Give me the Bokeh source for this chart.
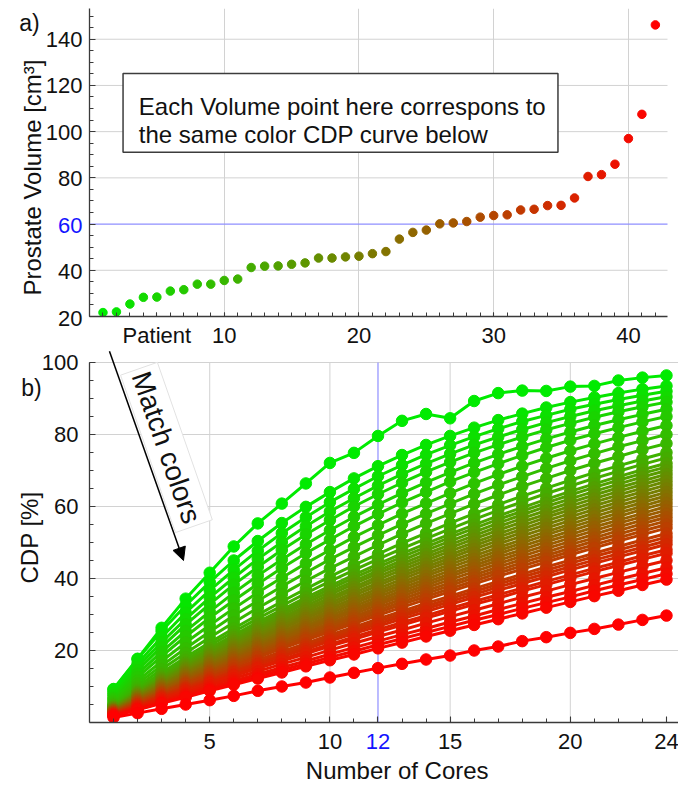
from bokeh.plotting import figure
from bokeh.models import (FixedTicker, Label, BoxAnnotation, Arrow, NormalHead,
                          ColumnDataSource, Range1d)
from bokeh.layouts import column, row
from bokeh.embed import file_html
from bokeh.resources import INLINE

# ---------------- data ----------------
patients = [1, 2, 3, 4, 5, 6, 7, 8, 9, 10, 11, 12, 13, 14, 15, 16, 17, 18, 19, 20, 21,
            22, 23, 24, 25, 26, 27, 28, 29, 30, 31, 32, 33, 34, 35, 36, 37, 38, 39, 40, 41, 42]
volume = [21.7, 22.0, 25.4, 28.3, 28.4, 31.0, 31.6, 34.0, 34.0, 35.6, 36.2, 41.2, 41.8, 41.9,
          42.6, 43.2, 45.3, 45.3, 45.8, 46.1, 47.2, 48.1, 53.5, 56.4, 57.4, 60.1, 60.5, 61.1,
          63.0, 63.7, 64.0, 66.1, 66.4, 68.0, 68.1, 71.3, 80.6, 81.4, 85.9, 97.0, 107.5, 146.2]

cores = [1, 2, 3, 4, 5, 6, 7, 8, 9, 10, 11, 12, 13, 14, 15, 16, 17, 18, 19, 20, 21, 22, 23, 24]

cdp_01 = [9.3, 17.7, 26.3, 34.4, 41.6, 48.9, 55.3, 60.8, 66.4, 72.1, 74.9, 79.6, 83.8, 85.7, 84.5, 89.3, 91.5, 92.2, 92.1, 93.3, 93.5, 95.0, 95.8, 96.4]
cdp_02 = [9.2, 17.6, 25.4, 32.5, 39.0, 45.0, 50.4, 55.4, 59.9, 64.0, 67.8, 71.2, 74.3, 77.1, 79.6, 81.9, 84.0, 85.8, 87.5, 89.0, 90.3, 91.5, 92.6, 93.5]
cdp_03 = [8.5, 16.4, 23.7, 30.5, 36.7, 42.4, 47.7, 52.6, 57.0, 61.2, 64.9, 68.4, 71.5, 74.4, 77.0, 79.4, 81.6, 83.6, 85.3, 87.0, 88.4, 89.7, 90.9, 92.0]
cdp_04 = [8.0, 15.4, 22.3, 28.7, 34.7, 40.2, 45.4, 50.1, 54.5, 58.6, 62.3, 65.8, 69.0, 71.9, 74.6, 77.1, 79.3, 81.4, 83.3, 85.0, 86.6, 88.0, 89.3, 90.5]
cdp_05 = [7.5, 14.5, 21.0, 27.2, 32.9, 38.3, 43.2, 47.9, 52.2, 56.2, 60.0, 63.4, 66.6, 69.6, 72.3, 74.9, 77.2, 79.3, 81.3, 83.1, 84.8, 86.3, 87.7, 89.0]
cdp_06 = [6.9, 13.5, 19.6, 25.4, 30.8, 36.0, 40.8, 45.3, 49.5, 53.4, 57.1, 60.5, 63.7, 66.7, 69.5, 72.1, 74.5, 76.7, 78.8, 80.7, 82.5, 84.1, 85.6, 87.0]
cdp_07 = [6.5, 12.6, 18.4, 23.9, 29.1, 33.9, 38.5, 42.9, 47.0, 50.8, 54.5, 57.9, 61.1, 64.0, 66.9, 69.5, 71.9, 74.2, 76.4, 78.4, 80.2, 81.9, 83.5, 85.0]
cdp_08 = [6.0, 11.6, 17.0, 22.2, 27.0, 31.7, 36.1, 40.2, 44.2, 47.9, 51.5, 54.8, 58.0, 60.9, 63.7, 66.4, 68.9, 71.2, 73.4, 75.5, 77.4, 79.2, 80.9, 82.5]
cdp_09 = [5.5, 10.8, 15.8, 20.6, 25.2, 29.7, 33.8, 37.8, 41.6, 45.3, 48.7, 52.0, 55.1, 58.0, 60.8, 63.5, 66.0, 68.3, 70.6, 72.7, 74.7, 76.6, 78.3, 80.0]
cdp_10 = [5.1, 10.0, 14.8, 19.3, 23.6, 27.8, 31.8, 35.6, 39.3, 42.8, 46.1, 49.3, 52.4, 55.3, 58.0, 60.7, 63.2, 65.6, 67.8, 70.0, 72.0, 73.9, 75.8, 77.5]
cdp_11 = [4.8, 9.4, 13.8, 18.1, 22.2, 26.1, 29.9, 33.6, 37.1, 40.5, 43.7, 46.8, 49.8, 52.6, 55.4, 58.0, 60.5, 62.9, 65.1, 67.3, 69.4, 71.3, 73.2, 75.0]
cdp_12 = [4.6, 9.0, 13.3, 17.4, 21.4, 25.2, 28.9, 32.4, 35.9, 39.2, 42.3, 45.4, 48.3, 51.1, 53.8, 56.4, 58.9, 61.3, 63.6, 65.7, 67.8, 69.8, 71.7, 73.5]
cdp_13 = [4.4, 8.6, 12.8, 16.7, 20.6, 24.3, 27.9, 31.3, 34.7, 37.9, 41.0, 44.0, 46.9, 49.7, 52.3, 54.9, 57.4, 59.7, 62.0, 64.2, 66.3, 68.3, 70.2, 72.0]
cdp_14 = [4.3, 8.4, 12.4, 16.3, 20.1, 23.7, 27.2, 30.6, 33.9, 37.1, 40.2, 43.1, 46.0, 48.7, 51.4, 53.9, 56.4, 58.7, 61.0, 63.2, 65.3, 67.3, 69.2, 71.0]
cdp_15 = [4.2, 8.2, 12.1, 15.9, 19.6, 23.1, 26.6, 29.9, 33.2, 36.3, 39.3, 42.2, 45.0, 47.8, 50.4, 52.9, 55.4, 57.7, 60.0, 62.1, 64.2, 66.2, 68.2, 70.0]
cdp_16 = [4.0, 8.0, 11.8, 15.5, 19.1, 22.6, 26.0, 29.2, 32.4, 35.5, 38.5, 41.4, 44.1, 46.8, 49.4, 51.9, 54.4, 56.7, 58.9, 61.1, 63.2, 65.2, 67.1, 69.0]
cdp_17 = [3.9, 7.8, 11.5, 15.1, 18.6, 22.0, 25.4, 28.6, 31.7, 34.7, 37.6, 40.5, 43.2, 45.9, 48.5, 51.0, 53.4, 55.7, 57.9, 60.1, 62.2, 64.2, 66.1, 68.0]
cdp_18 = [3.8, 7.6, 11.2, 14.7, 18.2, 21.5, 24.8, 27.9, 31.0, 34.0, 36.9, 39.7, 42.4, 45.0, 47.6, 50.0, 52.4, 54.7, 57.0, 59.1, 61.2, 63.2, 65.1, 67.0]
cdp_19 = [3.7, 7.4, 10.9, 14.4, 17.7, 21.0, 24.2, 27.3, 30.3, 33.2, 36.1, 38.8, 41.5, 44.1, 46.6, 49.1, 51.5, 53.7, 56.0, 58.1, 60.2, 62.2, 64.1, 66.0]
cdp_20 = [3.6, 7.2, 10.6, 14.0, 17.3, 20.5, 23.6, 26.7, 29.6, 32.5, 35.3, 38.0, 40.7, 43.2, 45.7, 48.2, 50.5, 52.8, 55.0, 57.1, 59.2, 61.2, 63.1, 65.0]
cdp_21 = [3.5, 7.0, 10.4, 13.7, 16.9, 20.0, 23.1, 26.1, 29.0, 31.8, 34.5, 37.2, 39.8, 42.4, 44.8, 47.2, 49.6, 51.8, 54.0, 56.1, 58.2, 60.2, 62.1, 64.0]
cdp_22 = [3.4, 6.8, 10.1, 13.3, 16.5, 19.5, 22.5, 25.4, 28.3, 31.1, 33.8, 36.4, 39.0, 41.5, 43.9, 46.3, 48.6, 50.8, 53.0, 55.1, 57.2, 59.2, 61.1, 63.0]
cdp_23 = [3.4, 6.6, 9.9, 13.0, 16.1, 19.1, 22.0, 24.9, 27.7, 30.4, 33.1, 35.7, 38.2, 40.7, 43.1, 45.4, 47.7, 49.9, 52.1, 54.2, 56.2, 58.2, 60.1, 62.0]
cdp_24 = [3.3, 6.5, 9.6, 12.7, 15.7, 18.6, 21.5, 24.3, 27.0, 29.7, 32.3, 34.9, 37.4, 39.8, 42.2, 44.5, 46.8, 49.0, 51.1, 53.2, 55.3, 57.2, 59.2, 61.0]
cdp_25 = [3.2, 6.3, 9.4, 12.3, 15.3, 18.1, 21.0, 23.7, 26.4, 29.0, 31.6, 34.1, 36.6, 39.0, 41.3, 43.6, 45.9, 48.0, 50.2, 52.2, 54.3, 56.2, 58.1, 60.0]
cdp_26 = [3.1, 6.1, 9.1, 12.0, 14.9, 17.7, 20.5, 23.2, 25.8, 28.4, 30.9, 33.4, 35.8, 38.2, 40.5, 42.8, 45.0, 47.1, 49.2, 51.3, 53.3, 55.3, 57.2, 59.0]
cdp_27 = [3.0, 6.0, 8.9, 11.7, 14.5, 17.3, 20.0, 22.6, 25.2, 27.7, 30.2, 32.7, 35.1, 37.4, 39.7, 41.9, 44.1, 46.2, 48.3, 50.3, 52.3, 54.3, 56.2, 58.0]
cdp_28 = [2.9, 5.8, 8.6, 11.4, 14.2, 16.8, 19.5, 22.1, 24.6, 27.1, 29.5, 31.9, 34.3, 36.6, 38.8, 41.0, 43.2, 45.3, 47.3, 49.4, 51.3, 53.3, 55.2, 57.0]
cdp_29 = [2.9, 5.7, 8.4, 11.1, 13.8, 16.4, 19.0, 21.5, 24.0, 26.5, 28.9, 31.2, 33.5, 35.8, 38.0, 40.2, 42.3, 44.4, 46.4, 48.4, 50.4, 52.3, 54.2, 56.0]
cdp_30 = [2.8, 5.5, 8.2, 10.9, 13.5, 16.0, 18.5, 21.0, 23.5, 25.9, 28.2, 30.5, 32.8, 35.0, 37.2, 39.3, 41.5, 43.5, 45.5, 47.5, 49.4, 51.3, 53.2, 55.0]
cdp_31 = [2.7, 5.4, 8.0, 10.6, 13.1, 15.6, 18.1, 20.5, 22.9, 25.2, 27.5, 29.8, 32.0, 34.2, 36.4, 38.5, 40.6, 42.6, 44.6, 46.6, 48.5, 50.4, 52.2, 54.0]
cdp_32 = [2.6, 5.1, 7.7, 10.1, 12.6, 15.0, 17.4, 19.7, 22.0, 24.3, 26.5, 28.8, 30.9, 33.1, 35.1, 37.2, 39.2, 41.2, 43.2, 45.1, 47.0, 48.9, 50.7, 52.5]
cdp_33 = [2.5, 5.0, 7.5, 9.9, 12.3, 14.6, 17.0, 19.3, 21.5, 23.7, 25.9, 28.1, 30.2, 32.3, 34.4, 36.4, 38.4, 40.4, 42.3, 44.2, 46.1, 47.9, 49.7, 51.5]
cdp_34 = [2.4, 4.9, 7.3, 9.6, 11.9, 14.2, 16.5, 18.8, 21.0, 23.1, 25.3, 27.4, 29.5, 31.6, 33.6, 35.6, 37.6, 39.5, 41.4, 43.3, 45.1, 46.9, 48.7, 50.5]
cdp_35 = [2.4, 4.7, 7.1, 9.4, 11.6, 13.9, 16.1, 18.3, 20.4, 22.6, 24.7, 26.7, 28.8, 30.8, 32.8, 34.8, 36.7, 38.6, 40.5, 42.4, 44.2, 46.0, 47.7, 49.5]
cdp_36 = [2.3, 4.5, 6.8, 9.0, 11.2, 13.3, 15.5, 17.6, 19.7, 21.7, 23.8, 25.8, 27.8, 29.7, 31.7, 33.6, 35.5, 37.3, 39.2, 41.0, 42.8, 44.5, 46.3, 48.0]
cdp_37 = [2.2, 4.4, 6.6, 8.7, 10.9, 13.0, 15.0, 17.1, 19.1, 21.2, 23.1, 25.1, 27.1, 29.0, 30.9, 32.8, 34.6, 36.5, 38.3, 40.1, 41.9, 43.6, 45.3, 47.0]
cdp_38 = [2.1, 4.2, 6.2, 8.2, 10.3, 12.3, 14.2, 16.2, 18.1, 20.1, 22.0, 23.9, 25.7, 27.6, 29.4, 31.2, 33.0, 34.8, 36.5, 38.3, 40.0, 41.7, 43.4, 45.0]
cdp_39 = [2.0, 3.9, 5.8, 7.8, 9.7, 11.6, 13.4, 15.3, 17.1, 19.0, 20.8, 22.6, 24.4, 26.1, 27.9, 29.6, 31.4, 33.1, 34.8, 36.4, 38.1, 39.8, 41.4, 43.0]
cdp_40 = [1.9, 3.7, 5.5, 7.4, 9.2, 11.0, 12.8, 14.6, 16.3, 18.1, 19.8, 21.6, 23.3, 25.0, 26.7, 28.4, 30.0, 31.7, 33.3, 34.9, 36.6, 38.2, 39.7, 41.3]
cdp_41 = [1.8, 3.5, 5.3, 7.0, 8.8, 10.5, 12.2, 13.9, 15.6, 17.3, 18.9, 20.6, 22.2, 23.9, 25.5, 27.1, 28.7, 30.3, 31.9, 33.5, 35.1, 36.6, 38.2, 39.7]
cdp_42 = [1.4, 2.6, 3.8, 5.0, 6.2, 7.4, 8.8, 10.0, 11.1, 12.5, 13.8, 15.1, 16.3, 17.5, 18.6, 20.0, 21.1, 22.6, 23.7, 24.9, 26.0, 27.2, 28.5, 29.7]

curves = [cdp_01, cdp_02, cdp_03, cdp_04, cdp_05, cdp_06, cdp_07, cdp_08, cdp_09, cdp_10,
          cdp_11, cdp_12, cdp_13, cdp_14, cdp_15, cdp_16, cdp_17, cdp_18, cdp_19, cdp_20,
          cdp_21, cdp_22, cdp_23, cdp_24, cdp_25, cdp_26, cdp_27, cdp_28, cdp_29, cdp_30,
          cdp_31, cdp_32, cdp_33, cdp_34, cdp_35, cdp_36, cdp_37, cdp_38, cdp_39, cdp_40,
          cdp_41, cdp_42]

vol_ticks = [20, 40, 60, 80, 100, 120, 140]
vol_grid = [40, 80, 100, 120, 140]
vol_highlight = 60
patient_ticks = [10, 20, 30, 40]
patient_label_pos = 5
cdp_ticks = [20, 40, 60, 80, 100]
core_ticks = [5, 10, 12, 15, 20, 24]
core_grid = [5, 10, 15, 20]
core_highlight = 12

# ---------------- style / geometry ----------------
FONT = "Liberation Sans"
AXIS_C = "#3a3a3a"
GRID_C = "#d2d2d2"
BLUE_GRID = "#8f8fff"
BLUE_TXT = "#1414ff"
TXT_C = "#111111"
TICK_FS = "22px"
TITLE_FS = "24px"

LEFT_W = 87          # width of the left label strips
MAIN_W = 591         # width of the plot figures (frame spans all but 2 px)
A_TOP, A_FRAME, A_BOT = 8, 310, 32
A_Y0, A_Y1 = 20, 153.3
A_X1 = 42.9          # end of the patient axis
A_X_PAD = 11         # px of blank frame right of the patient axis
B_TOP, B_FRAME, B_BOT = 0, 372, 2
B_PXU = 3.6          # px per CDP unit
B_Y1 = 100 + 12 / B_PXU
C_H = 62


def blend(i, n):
    t = i / (n - 1)
    return "#%02x%02x%02x" % (int(round(255 * t)), int(round(235 * (1 - t))), 0)


colors = [blend(i, len(patients)) for i in range(len(patients))]


def style(p):
    p.outline_line_color = None
    p.background_fill_color = "white"
    p.border_fill_color = "white"
    for ax in (p.xaxis[0], p.yaxis[0]):
        ax.axis_line_color = AXIS_C
        ax.axis_line_width = 1.3
        ax.major_tick_line_color = AXIS_C
        ax.minor_tick_line_color = AXIS_C
        ax.major_tick_line_width = 1.1
        ax.minor_tick_line_width = 1.0
        ax.major_tick_in = 6
        ax.major_tick_out = 0
        ax.minor_tick_in = 4
        ax.minor_tick_out = 0
        ax.major_label_text_font = FONT
        ax.major_label_text_font_size = TICK_FS
        ax.major_label_text_color = TXT_C
    p.grid.grid_line_color = GRID_C
    p.grid.grid_line_width = 1


def hide_labels(ax, ticks):
    ax.major_label_overrides = {t: "" for t in ticks}
    ax.major_label_text_font_size = "0px"
    ax.major_label_standoff = 0


def strip(width, height, x_range, y_range, mbl=0, mbr=0):
    s = figure(width=width, height=height, x_range=x_range, y_range=y_range,
               output_backend="svg", toolbar_location=None,
               x_axis_location=None, y_axis_location=None,
               min_border_left=mbl, min_border_right=mbr, min_border_top=0, min_border_bottom=0)
    s.outline_line_color = None
    s.grid.visible = False
    s.background_fill_color = "white"
    s.border_fill_color = "white"
    return s


def lab(p, text, x, y, size=TITLE_FS, color=TXT_C, **kw):
    p.add_layout(Label(x=x, y=y, text=text, text_font=FONT, text_font_size=size,
                       text_color=color, **kw))


# ---------------- panel a ----------------
a_xpu = (MAIN_W - 2 - A_X_PAD) / A_X1
pa = figure(width=MAIN_W, height=A_TOP + A_FRAME + A_BOT,
            x_range=Range1d(0, A_X1 + A_X_PAD / a_xpu), y_range=Range1d(A_Y0, A_Y1),
            output_backend="svg", toolbar_location=None,
            min_border_left=2, min_border_right=0, min_border_top=A_TOP, min_border_bottom=A_BOT)
style(pa)
pa.xaxis.ticker = FixedTicker(ticks=[patient_label_pos] + patient_ticks, minor_ticks=list(range(1, 43)))
pa.xaxis.major_label_overrides = {patient_label_pos: "Patient"}
pa.xaxis.major_label_standoff = 6
pa.xaxis.major_tick_in = 4
pa.xaxis.bounds = (0, A_X1)
pa.yaxis.ticker = FixedTicker(ticks=vol_ticks, minor_ticks=list(range(20, 155, 5)))
hide_labels(pa.yaxis[0], vol_ticks)
pa.xgrid.ticker = FixedTicker(ticks=patient_ticks)
pa.ygrid.visible = False
# horizontal grid lines limited to the patient axis extent
pa.segment(x0=[0] * len(vol_grid), y0=vol_grid, x1=[A_X1] * len(vol_grid), y1=vol_grid,
           line_color=GRID_C, line_width=1)
pa.segment(x0=[0], y0=[vol_highlight], x1=[A_X1], y1=[vol_highlight],
           line_color=BLUE_GRID, line_width=1.2)

src1 = ColumnDataSource(dict(x=patients, y=volume, c=colors))
pa.scatter("x", "y", source=src1, size=8.5, fill_color="c", line_color="c")

pa.add_layout(BoxAnnotation(left=2.49, right=34.77, bottom=91.1, top=125.2,
                            fill_color="white", fill_alpha=1.0,
                            line_color="#3c3c3c", line_alpha=1.0, line_width=1.5))
lab(pa, "Each Volume point here correspons to", 3.66, 110.9, text_baseline="alphabetic")
lab(pa, "the same color CDP curve below", 3.66, 98.7, text_baseline="alphabetic")

# left strip of panel a (same vertical scale as panel a, extended over its borders)
a_pxu = A_FRAME / (A_Y1 - A_Y0)
la = strip(LEFT_W, A_TOP + A_FRAME + A_BOT, Range1d(0, LEFT_W),
           Range1d(A_Y0 - A_BOT / a_pxu, A_Y1 + A_TOP / a_pxu))
for t in vol_ticks:
    lab(la, str(t), LEFT_W - 5, t, size=TICK_FS,
        color=BLUE_TXT if t == vol_highlight else TXT_C,
        text_align="right", text_baseline="middle")
lab(la, "Prostate Volume [cm³]", 32, 80.6, angle=1.5708,
    text_align="center", text_baseline="middle")
lab(la, "a)", 29, 146.9, size="23px", text_align="center", text_baseline="middle")

# ---------------- panel b ----------------
pb = figure(width=MAIN_W, height=B_TOP + B_FRAME + B_BOT,
            x_range=Range1d(0, 24.5), y_range=Range1d(0, B_Y1),
            output_backend="svg", toolbar_location=None,
            min_border_left=2, min_border_right=0, min_border_top=B_TOP, min_border_bottom=B_BOT)
style(pb)
pb.xaxis.ticker = FixedTicker(ticks=core_ticks, minor_ticks=list(range(1, 25)))
hide_labels(pb.xaxis[0], core_ticks)
pb.yaxis.ticker = FixedTicker(ticks=cdp_ticks, minor_ticks=list(range(0, 101, 5)))
pb.yaxis.bounds = (0, 100)
hide_labels(pb.yaxis[0], cdp_ticks)
pb.xgrid.visible = False
pb.ygrid.ticker = FixedTicker(ticks=cdp_ticks)

# vertical grid lines limited to the 0..100 axis extent
pb.segment(x0=core_grid, y0=[0] * len(core_grid), x1=core_grid, y1=[100] * len(core_grid),
           line_color=GRID_C, line_width=1)
pb.segment(x0=[core_highlight], y0=[0], x1=[core_highlight], y1=[100],
           line_color=BLUE_GRID, line_width=1.2)

for vals, col in zip(curves, colors):
    pb.line(cores, vals, line_color=col, line_width=3)
    pb.scatter(cores, vals, size=11.5, fill_color=col, line_color=col)

pb.add_layout(Arrow(end=NormalHead(size=13, fill_color="black", line_color="black"),
                    x_start=0.83, y_start=B_Y1 - 0.2, x_end=3.91, y_end=45.0,
                    line_color="black", line_width=1.5))
lab(pb, "Match colors", 3.2, 76.4, size="28px", angle=-1.235,
    text_align="center", text_baseline="middle",
    background_fill_color="white", border_line_color="#e2e2e2", padding=4)

lb = strip(LEFT_W, B_TOP + B_FRAME + B_BOT, Range1d(0, LEFT_W),
           Range1d(0 - B_BOT / B_PXU, B_Y1 + B_TOP / B_PXU))
for t in cdp_ticks:
    lab(lb, str(t), LEFT_W - 9, t, size=TICK_FS, text_align="right", text_baseline="middle")
lab(lb, "CDP [%]", 29, 51.4, angle=1.5708, text_align="center", text_baseline="middle")
lab(lb, "b)", 31, 92.8, size="23px", text_align="center", text_baseline="middle")

# bottom strip of panel b (shares the horizontal scale of panel b)
bc = strip(MAIN_W, C_H, pb.x_range, Range1d(0, C_H), mbl=2, mbr=0)
for t in core_ticks:
    lab(bc, str(t), t, C_H - 17, size=TICK_FS,
        color=BLUE_TXT if t == core_highlight else TXT_C,
        text_align="center", text_baseline="middle")
lab(bc, "Number of Cores", 12.8, C_H - 46, text_align="center", text_baseline="middle")

layout = row(column(la, lb), column(pa, pb, bc))
open("out.html", "w").write(file_html(layout, INLINE))
